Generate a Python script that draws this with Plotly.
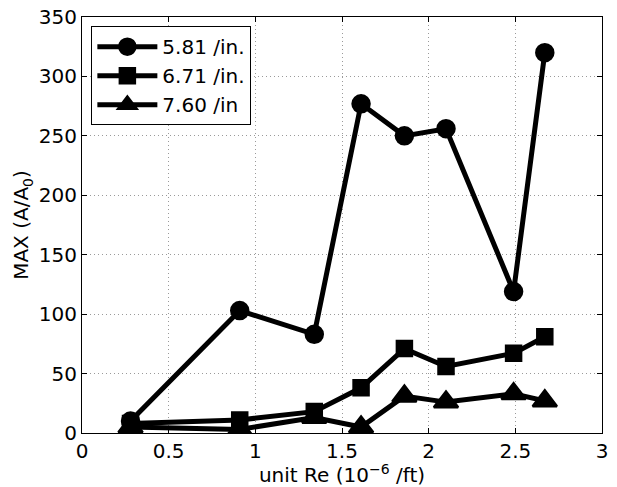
import plotly.graph_objects as go

re_x = [0.28, 0.91, 1.34, 1.61, 1.86, 2.10, 2.49, 2.67]
s581 = [10, 103, 83, 277, 250, 256, 119, 320]
s671 = [8, 11, 18, 38, 71, 56, 67, 81]
s760 = [5, 3, 13, 5, 31, 26, 33, 27]
names = ["5.81 /in.", "6.71 /in.", "7.60 /in"]
symbols = ["circle", "square", "triangle-up"]
msizes = [17, 15, 21]

fig = go.Figure()
for ys, nm, sym, ms in zip([s581, s671, s760], names, symbols, msizes):
    fig.add_trace(go.Scatter(
        x=re_x, y=ys, name=nm, mode="lines+markers",
        line=dict(color="black", width=5),
        marker=dict(symbol=sym, size=ms, color="black",
                    line=dict(color="black", width=2.5)),
    ))

FONT = "DejaVu Sans, Liberation Sans, sans-serif"
FS = 20
axis_common = dict(
    showline=True, linecolor="black", linewidth=1, mirror="ticks",
    ticks="inside", ticklen=5, tickcolor="black",
    showgrid=True, gridcolor="#9a9a9a", griddash="1px,3px", gridwidth=1,
    zeroline=False, automargin=False,
    tickfont=dict(family=FONT, size=FS, color="black"),
)

fig.update_layout(
    width=617, height=487,
    margin=dict(l=82, r=15, t=17, b=54),
    paper_bgcolor="white", plot_bgcolor="white",
    font=dict(family=FONT, size=FS, color="black"),
    xaxis=dict(range=[0, 3], dtick=0.5, tick0=0,
               title=dict(text="unit Re (10<sup>−6</sup> /ft)", standoff=0,
                          font=dict(size=FS)),
               **axis_common),
    yaxis=dict(range=[0, 350], dtick=50, tick0=0,
               title=dict(text="MAX (A/A<sub>0</sub>)", standoff=4,
                          font=dict(size=FS)),
               **axis_common),
    legend=dict(x=0.018, y=0.978, xanchor="left", yanchor="top",
                bordercolor="black", borderwidth=1, bgcolor="white",
                font=dict(size=FS), tracegroupgap=0, itemwidth=60),
    showlegend=True,
)

fig.write_html("out.html")
